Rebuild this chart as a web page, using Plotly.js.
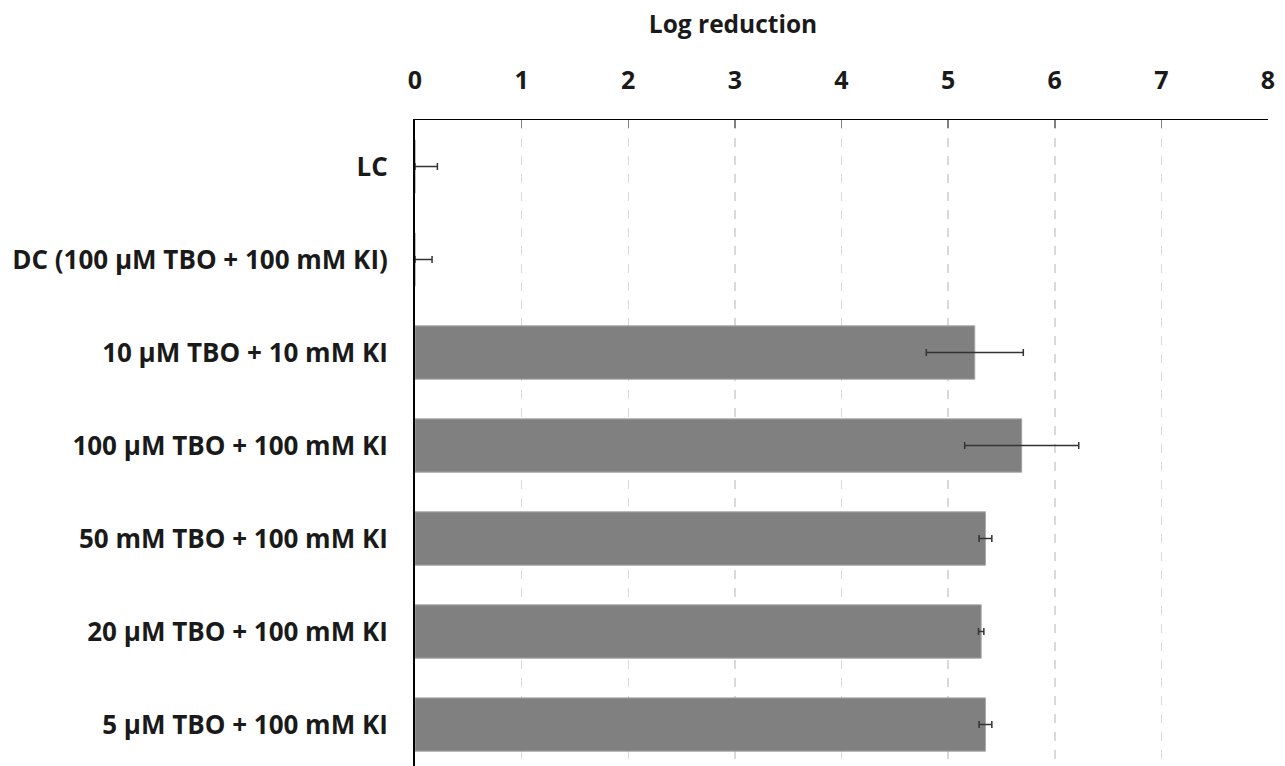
<!DOCTYPE html>
<html>
<head>
<meta charset="utf-8">
<script src="https://cdn.plot.ly/plotly-3.0.1.min.js"></script>
<style>html,body{margin:0;padding:0;background:#fff;}#chart{width:1285px;height:766px;}</style>
</head>
<body>
<div id="chart"></div>
<script>
const categories = ['LC', 'DC (100 µM TBO + 100 mM KI)', '10 µM TBO + 10 mM KI', '100 µM TBO + 100 mM KI', '50 mM TBO + 100 mM KI', '20 µM TBO + 100 mM KI', '5 µM TBO + 100 mM KI'];
const logReduction = [0, 0, 5.25, 5.69, 5.35, 5.31, 5.35];
const errorPlus = [0.21, 0.16, 0.455, 0.535, 0.06, 0.025, 0.06];
const errorMinus = [0, 0, 0.455, 0.535, 0.06, 0.025, 0.06];
const xTicks = [0, 1, 2, 3, 4, 5, 6, 7, 8];

const fam = '"Open Sans", sans-serif';
const yFont = {family: fam, size: 26, color: '#1a1a1a', weight: 700};
const xFont = {family: fam, size: 25, color: '#1a1a1a', weight: 700};
const tFont = {family: fam, size: 24.5, color: '#1a1a1a', weight: 700};

const trace = {
  type: 'bar',
  orientation: 'h',
  y: categories,
  x: logReduction,
  marker: {color: '#808080', line: {color: '#a6a6a6', width: 1}},
  error_x: {type: 'data', symmetric: false, array: errorPlus, arrayminus: errorMinus, color: '#333333', thickness: 1.5, width: 3.5},
  hoverinfo: 'x+y'
};

const layout = {
  width: 1285, height: 766,
  margin: {l: 415, r: 17, t: 120, b: 0, pad: 0},
  paper_bgcolor: '#ffffff', plot_bgcolor: '#ffffff',
  showlegend: false,
  bargap: 0.427,
  font: xFont,
  title: {
    text: 'Log reduction', font: tFont,
    xref: 'container', yref: 'container',
    x: 733 / 1285, xanchor: 'center',
    y: 1 - 24 / 766, yanchor: 'middle'
  },
  xaxis: {
    side: 'top',
    range: [0, 8],
    tickvals: xTicks,
    ticktext: xTicks.map(String),
    ticks: 'inside', ticklen: 8, tickcolor: '#808080', tickwidth: 1.5,
    showline: true, linecolor: '#000000', linewidth: 1.5,
    showgrid: true, gridcolor: '#d9d9d9', gridwidth: 1.5, griddash: 'dash',
    zeroline: false,
    tickfont: xFont,
    ticklabelstandoff: 20
  },
  yaxis: {
    type: 'category',
    range: [6.446, -0.5],
    showline: true, linecolor: '#000000', linewidth: 2,
    ticks: '', showgrid: false, zeroline: false,
    tickfont: yFont,
    ticklabelstandoff: 20
  }
};

Plotly.newPlot('chart', [trace], layout, {displayModeBar: false, staticPlot: true});
</script>
</body>
</html>
